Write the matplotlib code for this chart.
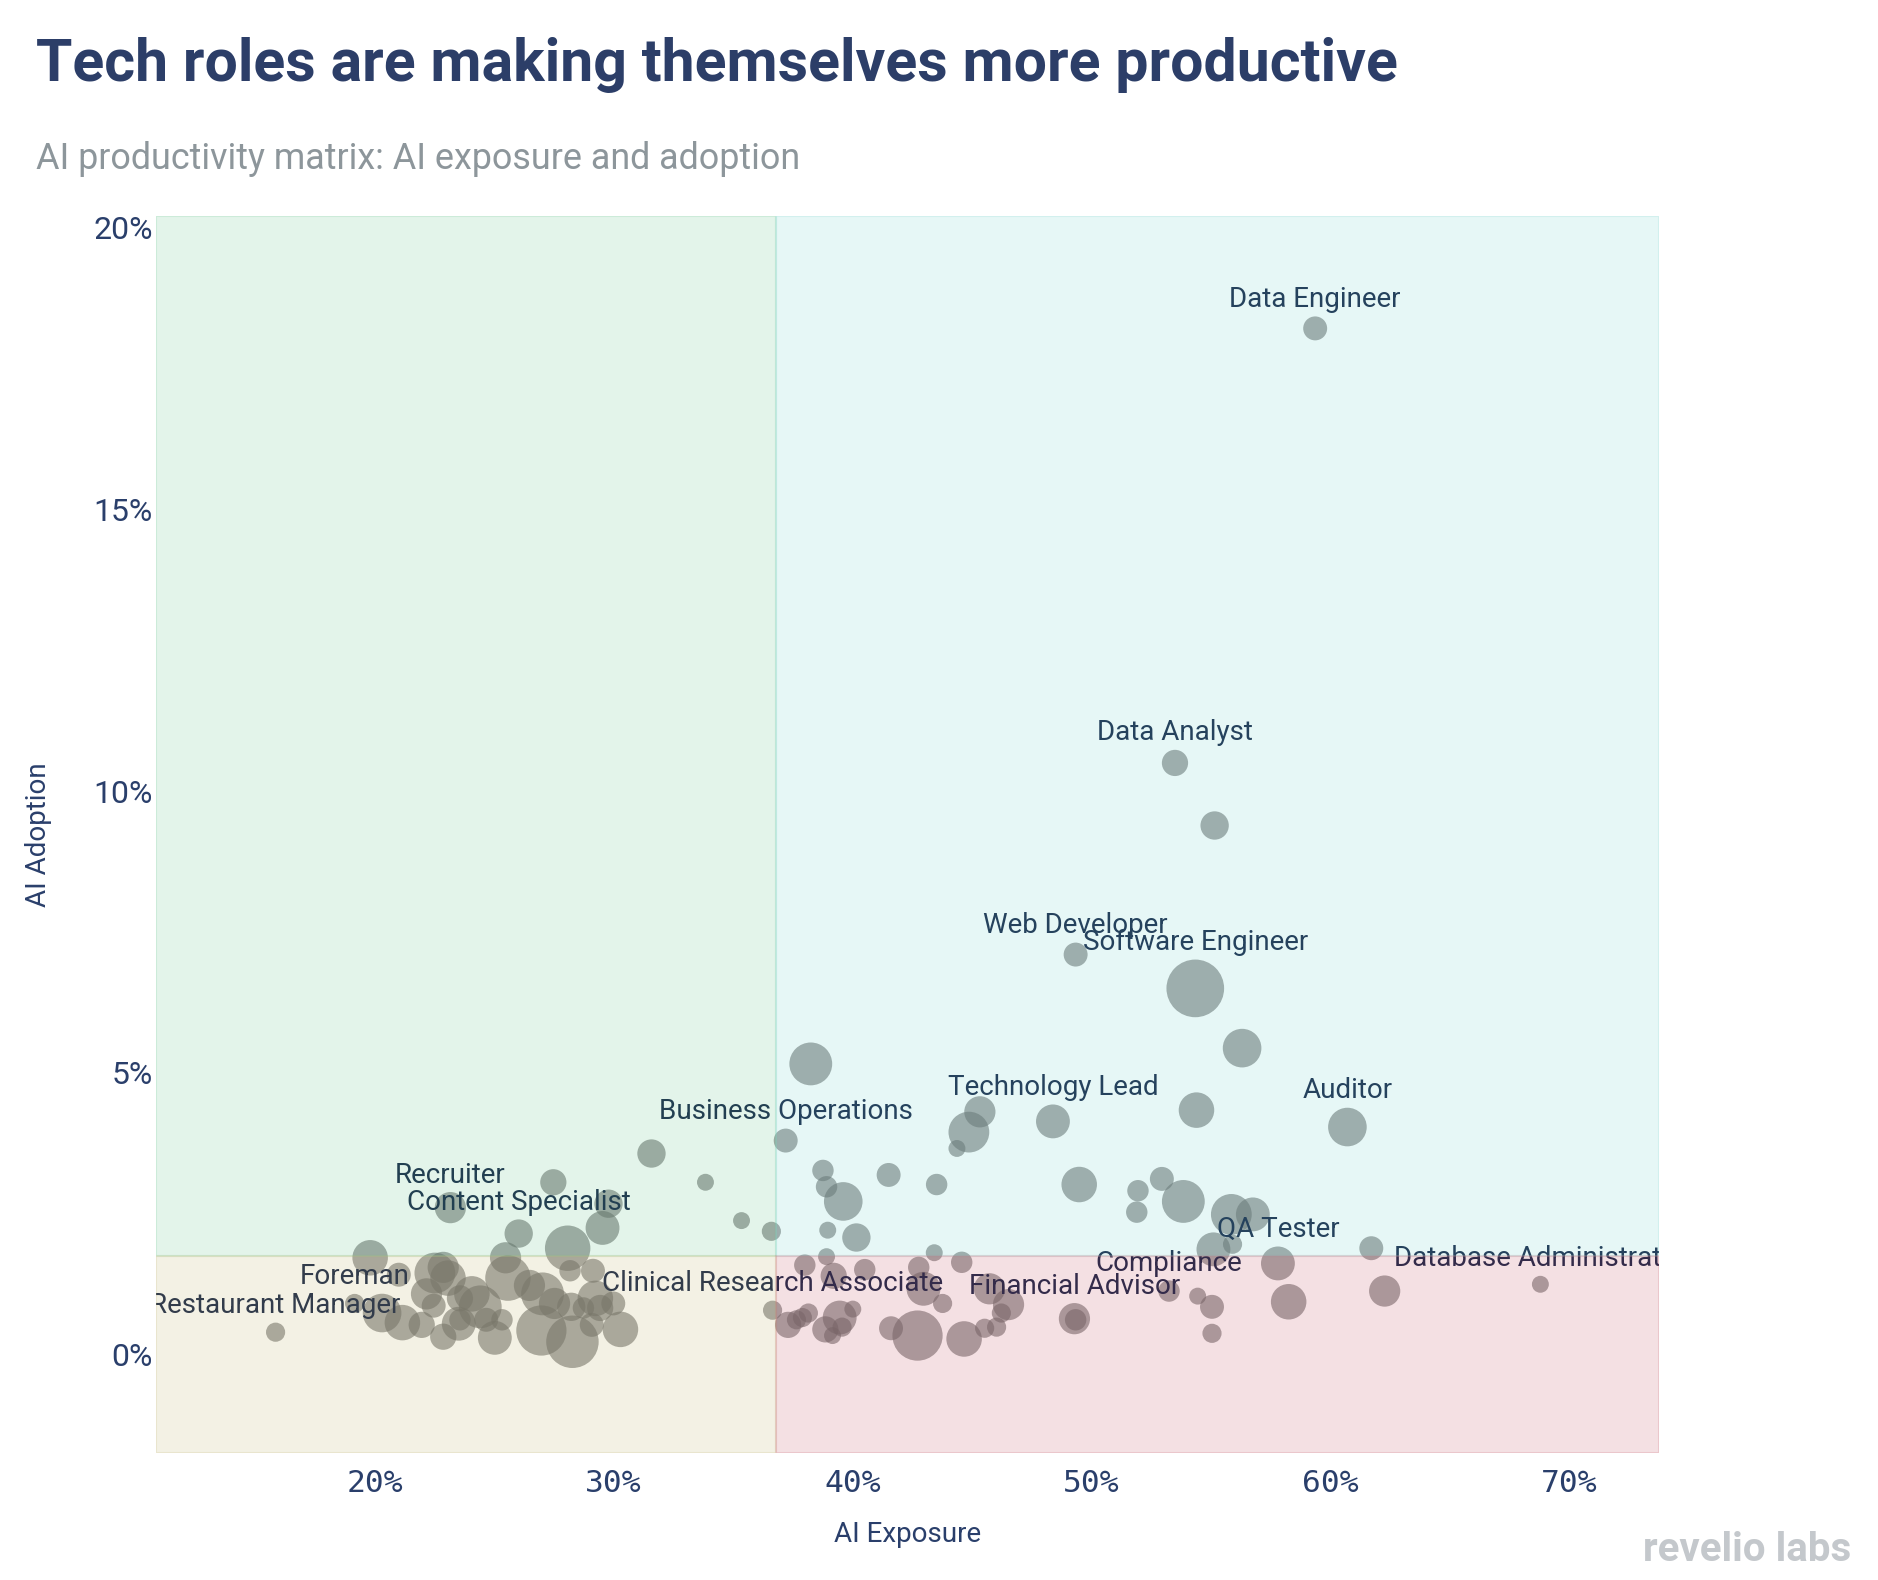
import matplotlib
matplotlib.use("Agg")
import matplotlib.pyplot as plt
from matplotlib.patches import Rectangle
import numpy as np

# ---------------- data ----------------
# AI exposure (%), AI adoption (%), relative headcount (bubble area), role label
exposure = [
    59.37, 53.50, 55.16, 49.34, 54.35, 56.31, 38.25, 60.72, 48.39, 45.33,
    44.87, 54.40, 37.20, 44.37, 38.76, 41.51, 43.52, 38.91, 39.61, 49.49,
    52.95, 51.95, 53.85, 51.90, 55.86, 56.76, 40.16, 38.96, 43.42, 55.91,
    55.11, 61.72, 38.91,
    27.47, 29.78, 31.58, 33.84, 35.35, 36.60, 23.16, 29.53, 26.02, 28.07, 19.80,
    25.47, 22.86, 28.17, 29.13, 25.57, 26.47, 27.02, 29.23, 29.98, 24.06,
    24.41, 23.06, 25.32, 25.02, 26.97, 28.27, 29.08, 30.28, 28.22, 28.73,
    29.43, 27.52, 23.51, 22.86, 24.66, 21.00, 22.51, 22.16, 20.30, 21.15,
    21.96, 19.15, 15.84, 22.46, 23.56, 23.56, 36.65,
    38.00, 40.51, 42.77, 44.57, 39.21, 42.97, 45.73, 46.53, 46.23, 43.77,
    37.30, 37.65, 38.15, 39.46, 38.86, 39.16, 39.56, 40.01, 41.61, 42.72,
    44.67, 45.53, 46.03, 49.29, 49.34, 53.25, 54.45, 55.05, 55.05, 57.81,
    58.26, 62.28, 68.80, 37.90,
]
adoption = [
    18.21, 10.50, 9.39, 7.10, 6.50, 5.44, 5.16, 4.04, 4.14, 4.31,
    3.95, 4.34, 3.80, 3.66, 3.27, 3.19, 3.02, 2.98, 2.72, 3.02,
    3.12, 2.91, 2.72, 2.53, 2.49, 2.49, 2.08, 2.21, 1.81, 1.96,
    1.87, 1.89, 1.74,
    3.06, 2.68, 3.57, 3.06, 2.38, 2.19, 2.61, 2.25, 2.15, 1.89, 1.72,
    1.72, 1.55, 1.49, 1.49, 1.36, 1.23, 1.08, 1.00, 0.91, 1.08,
    0.85, 1.36, 0.62, 0.30, 0.43, 0.23, 0.53, 0.45, 0.85, 0.83,
    0.83, 0.91, 0.55, 0.32, 0.62, 1.42, 1.45, 1.08, 0.74, 0.57,
    0.53, 0.91, 0.40, 0.87, 1.00, 0.62, 0.79,
    1.59, 1.51, 1.55, 1.64, 1.40, 1.17, 1.17, 0.89, 0.74, 0.91,
    0.53, 0.62, 0.74, 0.66, 0.45, 0.34, 0.49, 0.81, 0.47, 0.34,
    0.28, 0.47, 0.49, 0.64, 0.62, 1.13, 1.04, 0.85, 0.38, 1.62,
    0.94, 1.13, 1.25, 0.66,
]
headcount = [
    10, 12, 14, 10, 58, 26, 32, 26, 20, 17,
    29, 22, 10, 5, 8, 10, 8, 8, 26, 22,
    10, 8, 32, 8, 29, 20, 14, 5, 5, 6.4,
    20, 10, 5,
    12, 14, 14, 5, 5, 6.4, 17, 20, 14, 36, 22,
    17, 17, 8, 10, 36, 17, 32, 22, 10, 22,
    32, 22, 8, 20, 44, 48, 10, 22, 14, 8,
    12, 17, 20, 12, 10, 10, 29, 17, 26, 22,
    12, 6.4, 6.4, 10, 12, 8, 6.4,
    8, 8, 8, 8, 12, 20, 17, 17, 6.4, 6.4,
    12, 6.4, 6.4, 20, 12, 5, 6.4, 5, 10, 44,
    22, 6.4, 6.4, 17, 8, 8, 5, 10, 6.4, 20,
    22, 17, 5, 6.4,
]
roles = [""] * len(exposure)
role_labels = {
    0: "Data Engineer", 1: "Data Analyst", 3: "Web Developer", 4: "Software Engineer",
    7: "Auditor", 8: "Technology Lead", 12: "Business Operations",
    39: "Recruiter", 41: "Content Specialist", 75: "Foreman", 76: "Restaurant Manager",
    80: "Clinical Research Associate", 104: "Financial Advisor", 106: "Compliance",
    110: "QA Tester", 113: "Database Administrator",
}
for k, v in role_labels.items():
    roles[k] = v

x_threshold = 36.8
y_threshold = 1.76
x_ticks = [20, 30, 40, 50, 60, 70]
y_ticks = [0, 5, 10, 15, 20]

title = "Tech roles are making themselves more productive"
subtitle = "AI productivity matrix: AI exposure and adoption"

# ---------------- figure ----------------
W, H, DPI = 1878, 1580, 100
fig = plt.figure(figsize=(W / DPI, H / DPI), dpi=DPI)
ax = fig.add_axes([0.0829, 0.0805, 0.8004, 0.783])
xmin, xmax, ymin, ymax = 10.82, 73.76, -1.74, 20.21
ax.set_xlim(xmin, xmax)
ax.set_ylim(ymin, ymax)

size_scale = 29.7
s = np.array(headcount) * size_scale
ax.scatter(exposure, adoption, s=s, color="#676767", alpha=0.6, linewidths=0, zorder=2)

label_color = "#0f1e41"
for x, y, ss, lab in zip(exposure, adoption, s, roles):
    if lab:
        r_pt = np.sqrt(ss) / 2
        ax.annotate(lab, (x, y), xytext=(0, r_pt + 2.5), textcoords="offset points",
                    ha="center", va="bottom", fontsize=20, family="Roboto",
                    color=label_color, zorder=3, clip_on=True)

# quadrant tints drawn above the marks
quads = [
    (xmin, y_threshold, x_threshold - xmin, ymax - y_threshold, "#73c896"),
    (x_threshold, y_threshold, xmax - x_threshold, ymax - y_threshold, "#82d7d2"),
    (xmin, ymin, x_threshold - xmin, y_threshold - ymin, "#c3b978"),
    (x_threshold, ymin, xmax - x_threshold, y_threshold - ymin, "#c86473"),
]
for qx, qy, qw, qh, qc in quads:
    ax.add_patch(Rectangle((qx, qy), qw, qh, facecolor=qc, edgecolor=qc,
                           alpha=0.2, linewidth=1.5, zorder=4))

for sp in ax.spines.values():
    sp.set_visible(False)
ax.set_xticks(x_ticks)
ax.set_xticklabels([f"{t}%" for t in x_ticks], family="DejaVu Sans Mono",
                   fontsize=22.5, color="#2a3f6b")
ax.set_yticks(y_ticks)
ax.set_yticklabels([f"{t}%" for t in y_ticks], family="Roboto",
                   fontsize=23, color="#2a3f6b")
ax.tick_params(axis="x", length=0, pad=12)
ax.tick_params(axis="y", length=0, pad=2)

fig.text(0.4834, 0.0285, "AI Exposure", ha="center", va="center",
         family="Roboto", fontsize=20, color="#2a3f6b")
fig.text(0.0204, 0.4715, "AI Adoption", ha="center", va="center", rotation=90,
         family="Roboto", fontsize=20, color="#2a3f6b")

fig.text(0.019, 0.9487, title, ha="left", va="baseline", family="Roboto",
         fontweight="bold", fontsize=42.5, color="#2c3e68")
fig.text(0.019, 0.893, subtitle, ha="left", va="baseline", family="Roboto",
         fontsize=25.8, color="#8d969b")
fig.text(0.986, 0.012, "revelio labs", ha="right", va="baseline", family="Roboto",
         fontweight="bold", fontsize=29, color="#c4c8cc")

fig.savefig("out.png", dpi=DPI)
